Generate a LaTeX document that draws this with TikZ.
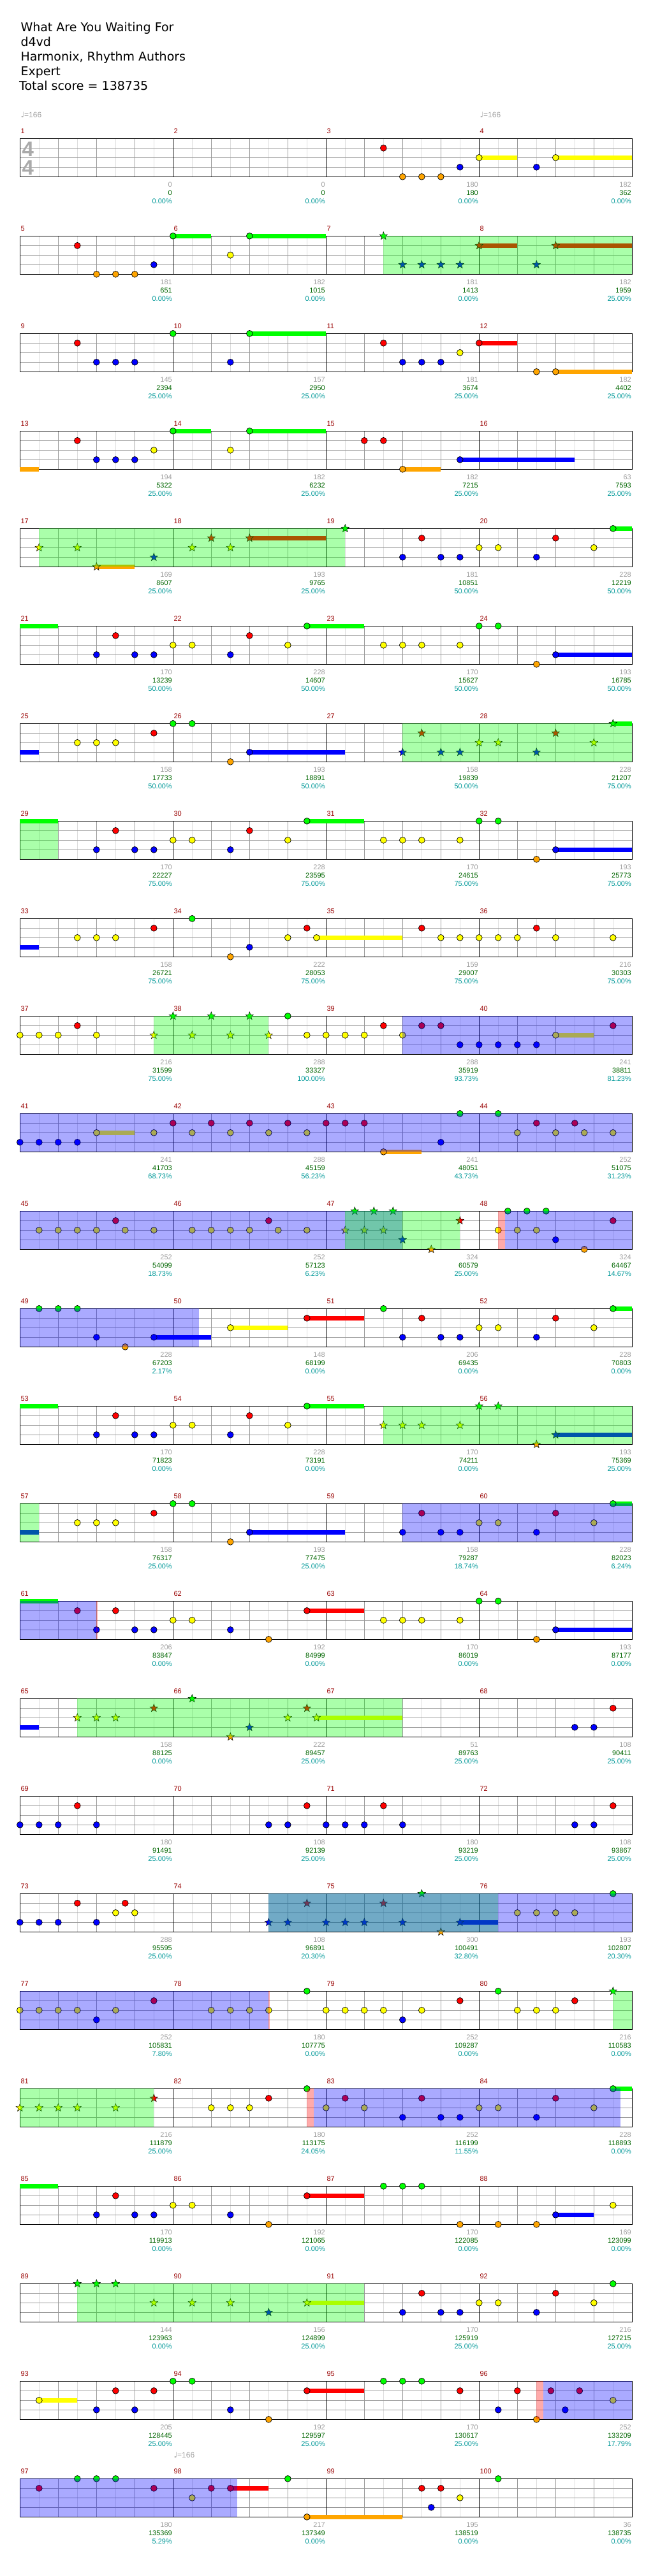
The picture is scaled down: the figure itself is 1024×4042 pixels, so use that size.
\documentclass[tikz,border=0pt]{standalone}
\usepackage{fontspec}
\setmainfont{Liberation Sans}
\newfontfamily\dejavu{DejaVu Sans}
\usetikzlibrary{shapes.geometric}
\definecolor{lane0}{HTML}{00FF00}
\definecolor{lane1}{HTML}{FF0000}
\definecolor{lane2}{HTML}{FFFF00}
\definecolor{lane3}{HTML}{0000FF}
\definecolor{lane4}{HTML}{FFA500}
\definecolor{spg}{HTML}{00FF00}
\definecolor{act}{HTML}{0000FF}
\definecolor{pnk}{HTML}{FF0000}
\definecolor{gridgray}{HTML}{999999}
\definecolor{gridlight}{HTML}{DDDDDD}
\definecolor{mred}{HTML}{990000}
\definecolor{sgray}{HTML}{A0A0A0}
\definecolor{sgreen}{HTML}{006600}
\definecolor{steal}{HTML}{009999}
\definecolor{tsgray}{HTML}{AAAAAA}
\newcommand\Nt[3]{\path[notec, fill=lane#3] ({31.3+30*(#2)},{217.3+153*(#1)+15*(#3)}) circle[radius=4.9pt];}
\newcommand\St[3]{\node[starn, fill=lane#3] at ({31.3+30*(#2)},{217.3+153*(#1)+15*(#3)}) {};}
\newcommand\Su[4]{\fill[lane#4] ({31.3+30*(#2)},{213.8+153*(#1)+15*(#4)}) rectangle ({31.3+30*(#3)},{220.8+153*(#1)+15*(#4)});}
\newcommand\Ov[4]{\fill[#4, opacity=0.3333] ({31.3+30*(#2)},{217.3+153*(#1)}) rectangle ({31.3+30*(#3)},{277.3+153*(#1)});}
\newcommand\rowN[2]{\foreach \qp/\ql in {#2}{\edef\tmpa{\noexpand\Nt{#1}{\qp}{\ql}}\tmpa}}
\newcommand\rowS[2]{\foreach \qp/\ql in {#2}{\edef\tmpa{\noexpand\St{#1}{\qp}{\ql}}\tmpa}}
\newcommand\rowB[2]{\foreach \qa/\qb/\ql in {#2}{\edef\tmpa{\noexpand\Su{#1}{\qa}{\qb}{\ql}}\tmpa}}
\newcommand\rowO[2]{\foreach \qa/\qb/\qc in {#2}{\edef\tmpa{\noexpand\Ov{#1}{\qa}{\qb}{\qc}}\tmpa}}
\begin{document}
\begin{tikzpicture}[x=1pt,y=-1pt,line width=1pt,
  notec/.style={draw=black, line width=0.7pt},
  starn/.style={star, star points=5, star point ratio=2.4, minimum size=13pt, inner sep=0pt, draw=black, line width=0.5pt},
  ttl/.style={anchor=base west, inner sep=0pt, font=\dejavu\fontsize{19}{23}\selectfont},
  mnum/.style={anchor=base west, inner sep=0pt, font=\fontsize{11}{13}\selectfont, text=mred},
  scn/.style={anchor=base east, inner sep=0pt, font=\fontsize{11}{13}\selectfont},
  tempo/.style={anchor=base west, inner sep=0pt, font=\fontsize{12}{14}\selectfont, text=sgray},
  tsig/.style={anchor=base west, inner sep=0pt, font=\bfseries\fontsize{33}{33}\selectfont, text=tsgray}]
\fill[white] (0,0) rectangle (1024,4042);
\useasboundingbox (0,0) rectangle (1024,4042);
% header
\node[ttl] (title) at (32,49.3) {What Are You Waiting For};
\node[ttl] (artist) at (32,72.3) {d4vd};
\node[ttl] (charter) at (32,95.3) {Harmonix, Rhythm Authors};
\node[ttl] (diff) at (32,118.3) {Expert};
\node[ttl] (total) at (29.7,141.3) {Total score = 138735};
\node[tempo] (tp1) at (32,184.3) {{\dejavu ♩}=166};
\node[tempo] (tp2) at (752,184.3) {{\dejavu ♩}=166};
\node[tempo] (tp3) at (272,3856.3) {{\dejavu ♩}=166};
% grids
\foreach \r in {0,...,24}{
  \pgfmathsetmacro\rT{217.3+153*\r}
  \foreach \k in {1,3,...,31}{\draw[gridlight] ({31.3+30*\k},\rT) -- ++(0,60);}
  \foreach \k in {1,2,3}{\draw[gridgray] (31.3,{\rT+15*\k}) -- ++(960,0);}
  \foreach \k in {2,4,6,10,12,14,18,20,22,26,28,30}{\draw[gridgray] ({31.3+30*\k},\rT) -- ++(0,60);}
  \foreach \k in {1,2,3}{\draw[black] ({31.3+240*\k},\rT) -- ++(0,60);}
  \draw[black] (31.3,\rT) rectangle ++(960,60);
}
\node[tsig] (ts1) at (34,245) {4};
\node[tsig] (ts2) at (34,274) {4};
% row 0
\rowB{0}{24/26/2, 28/32/2}
\rowN{0}{19/1,20/4,21/4,22/4,23/3,24/2,27/3,28/2}
% row 1
\rowB{1}{8/10/0, 12/16/0, 24/26/1, 28/32/1}
\rowN{1}{3/1,4/4,5/4,6/4,7/3,8/0,11/2,12/0}
\rowS{1}{19/0,20/3,21/3,22/3,23/3,24/1,27/3,28/1}
\rowO{1}{19/32/spg}
% row 2
\rowB{2}{12/16/0, 24/26/1, 28/32/4}
\rowN{2}{3/1,4/3,5/3,6/3,8/0,11/3,12/0,19/1,20/3,21/3,22/3,23/2,24/1,27/4,28/4}
% row 3
\rowB{3}{0/1/4, 8/10/0, 12/16/0, 20/22/4, 23/29/3}
\rowN{3}{3/1,4/3,5/3,6/3,7/2,8/0,11/2,12/0,18/1,19/1,20/4,23/3}
% row 4
\rowB{4}{4/6/4, 12/16/1, 31/32/0}
\rowS{4}{1/2,3/2,4/4,7/3,9/2,10/1,11/2,12/1,17/0}
\rowN{4}{20/3,21/1,22/3,23/3,24/2,25/2,27/3,28/1,30/2,31/0}
\rowO{4}{1/17/spg}
% row 5
\rowB{5}{0/2/0, 15/18/0, 28/32/3}
\rowN{5}{4/3,5/1,6/3,7/3,8/2,9/2,11/3,12/1,14/2,15/0,19/2,20/2,21/2,23/2,24/0,25/0,27/4,28/3}
% row 6
\rowB{6}{0/1/3, 12/17/3, 31/32/0}
\rowN{6}{3/2,4/2,5/2,7/1,8/0,9/0,11/4,12/3}
\rowS{6}{20/3,21/1,22/3,23/3,24/2,25/2,27/3,28/1,30/2,31/0}
\rowO{6}{20/32/spg}
% row 7
\rowB{7}{0/2/0, 15/18/0, 28/32/3}
\rowN{7}{4/3,5/1,6/3,7/3,8/2,9/2,11/3,12/1,14/2,15/0,19/2,20/2,21/2,23/2,24/0,25/0,27/4,28/3}
\rowO{7}{0/2/spg}
% row 8
\rowB{8}{0/1/3, 15.5/20/2}
\rowN{8}{3/2,4/2,5/2,7/1,9/0,11/4,12/3,14/2,15/1,15.5/2,21/1,22/2,23/2,24/2,25/2,26/2,27/1,28/2,31/2}
% row 9
\rowB{9}{28/30/2}
\rowN{9}{0/2,1/2,2/2,3/1,4/2,14/0,15/2,16/2,17/2,18/2,19/1,20/2,21/1,22/1,23/3,24/3,25/3,26/3,27/3,28/2,31/1}
\rowS{9}{7/2,8/0,9/2,10/0,11/2,12/0,13/2}
\rowO{9}{7/13/spg, 20/32/act}
% row 10
\rowB{10}{4/6/2, 19/21/4}
\rowN{10}{0/3,1/3,2/3,3/3,4/2,7/2,8/1,9/2,10/1,11/2,12/1,13/2,14/1,15/2,16/1,17/1,18/1,19/4,22/3,23/0,25/0,26/2,27/1,28/2,29/1,29.5/2,31/2}
\rowO{10}{0/32/act}
% row 11
\rowN{11}{1/2,2/2,3/2,4/2,5/1,5.5/2,7/2,9/2,10/2,11/2,12/2,13/1,13.5/2,15/2,25/2,25.5/0,26/2,26.5/0,27/2,27.5/0,28/3,29.5/4,31/1}
\rowS{11}{17/2,17.5/0,18/2,18.5/0,19/2,19.5/0,20/3,21.5/4,23/1}
\rowO{11}{0/20/act, 17/23/spg, 25/25.35/pnk, 25.35/32/act}
% row 12
\rowB{12}{7/10/3, 11/14/2, 15/18/1, 31/32/0}
\rowN{12}{1/0,2/0,3/0,4/3,5.5/4,7/3,11/2,15/1,19/0,20/3,21/1,22/3,23/3,24/2,25/2,27/3,28/1,30/2,31/0}
\rowO{12}{0/9.36/act}
% row 13
\rowB{13}{0/2/0, 15/18/0, 28/32/3}
\rowN{13}{4/3,5/1,6/3,7/3,8/2,9/2,11/3,12/1,14/2,15/0}
\rowS{13}{19/2,20/2,21/2,23/2,24/0,25/0,27/4,28/3}
\rowO{13}{19/32/spg}
% row 14
\rowB{14}{0/1/3, 12/17/3, 31/32/0}
\rowN{14}{3/2,4/2,5/2,7/1,8/0,9/0,11/4,12/3,20/3,21/1,22/3,23/3,24/2,25/2,27/3,28/1,30/2,31/0}
\rowO{14}{0/1/spg, 20/32/act}
% row 15
\rowB{15}{0/2/0, 15/18/1, 28/32/3}
\rowN{15}{3/1,4/3,5/1,6/3,7/3,8/2,9/2,11/3,13/4,15/1,19/2,20/2,21/2,23/2,24/0,25/0,27/4,28/3}
\rowO{15}{0/4/act, 4/4.04/pnk}
% row 16
\rowB{16}{0/1/3, 15.5/20/2}
\rowS{16}{3/2,4/2,5/2,7/1,9/0,11/4,12/3,14/2,15/1,15.5/2}
\rowN{16}{29/3,30/3,31/1}
\rowO{16}{3/20/spg}
% row 17
\rowN{17}{0/3,1/3,2/3,3/1,4/3,13/3,14/3,15/1,16/3,17/3,18/3,19/1,20/3,29/3,30/3,31/1}
% row 18
\rowB{18}{23/25/3}
\rowN{18}{0/3,1/3,2/3,3/1,4/3,5/2,5.5/1,6/2,26/2,27/2,28/2,29/2,31/0}
\rowS{18}{13/3,14/3,15/1,16/3,17/3,18/3,19/1,20/3,21/0,22/4,23/3}
\rowO{18}{13/25/spg, 13/32/act}
% row 19
\rowN{19}{0/2,1/2,2/2,3/2,4/3,5/2,7/1,10/2,11/2,12/2,13/2,15/0,16/2,17/2,18/2,19/2,20/3,21/2,23/1,25/0,26/2,27/2,28/2,29/1}
\rowS{19}{31/0}
\rowO{19}{0/13/act, 13/13.04/pnk, 31/32/spg}
% row 20
\rowB{20}{31/32/0}
\rowS{20}{0/2,1/2,2/2,3/2,5/2,7/1}
\rowN{20}{10/2,11/2,12/2,13/1,15/0,16/2,17/1,18/2,20/3,21/1,22/3,23/3,24/2,25/2,27/3,28/1,30/2,31/0}
\rowO{20}{0/7/spg, 15/15.35/pnk, 15.35/31.39/act}
% row 21
\rowB{21}{0/2/0, 15/18/1, 28/30/3}
\rowN{21}{4/3,5/1,6/3,7/3,8/2,9/2,11/3,13/4,15/1,19/0,20/0,21/0,23/4,25/4,27/4,28/3,31/2}
% row 22
\rowB{22}{15/18/2}
\rowS{22}{3/0,4/0,5/0,7/2,9/2,11/2,13/3,15/2}
\rowN{22}{20/3,21/1,22/3,23/3,24/2,25/2,27/3,28/1,30/2,31/0}
\rowO{22}{3/18/spg}
% row 23
\rowB{23}{1/3/2, 15/18/1}
\rowN{23}{1/2,4/3,5/1,6/3,7/1,8/0,9/0,11/3,13/4,15/1,19/0,20/0,21/0,23/1,25/3,26/1,27/4,27.75/1,28.5/3,29.25/1,31/2}
\rowO{23}{27/27.35/pnk, 27.35/32/act}
% row 24
\rowB{24}{11/13/1, 15/20/4}
\rowN{24}{1/1,3/0,4/0,5/0,7/1,9/2,10/1,11/1,14/0,15/4,21/1,21.5/3,22/1,23/2,25/0}
\rowO{24}{0/11.36/act}
% measure numbers and scores
\foreach \m/\qa/\qb/\qc in {1/0/0/0.00,2/0/0/0.00,3/180/180/0.00,4/182/362/0.00,
5/181/651/0.00,6/182/1015/0.00,7/181/1413/0.00,8/182/1959/25.00,
9/145/2394/25.00,10/157/2950/25.00,11/181/3674/25.00,12/182/4402/25.00,
13/194/5322/25.00,14/182/6232/25.00,15/182/7215/25.00,16/63/7593/25.00,
17/169/8607/25.00,18/193/9765/25.00,19/181/10851/50.00,20/228/12219/50.00,
21/170/13239/50.00,22/228/14607/50.00,23/170/15627/50.00,24/193/16785/50.00,
25/158/17733/50.00,26/193/18891/50.00,27/158/19839/50.00,28/228/21207/75.00,
29/170/22227/75.00,30/228/23595/75.00,31/170/24615/75.00,32/193/25773/75.00,
33/158/26721/75.00,34/222/28053/75.00,35/159/29007/75.00,36/216/30303/75.00,
37/216/31599/75.00,38/288/33327/100.00,39/288/35919/93.73,40/241/38811/81.23,
41/241/41703/68.73,42/288/45159/56.23,43/241/48051/43.73,44/252/51075/31.23,
45/252/54099/18.73,46/252/57123/6.23,47/324/60579/25.00,48/324/64467/14.67,
49/228/67203/2.17,50/148/68199/0.00,51/206/69435/0.00,52/228/70803/0.00,
53/170/71823/0.00,54/228/73191/0.00,55/170/74211/0.00,56/193/75369/25.00,
57/158/76317/25.00,58/193/77475/25.00,59/158/79287/18.74,60/228/82023/6.24,
61/206/83847/0.00,62/192/84999/0.00,63/170/86019/0.00,64/193/87177/0.00,
65/158/88125/0.00,66/222/89457/25.00,67/51/89763/25.00,68/108/90411/25.00,
69/180/91491/25.00,70/108/92139/25.00,71/180/93219/25.00,72/108/93867/25.00,
73/288/95595/25.00,74/108/96891/20.30,75/300/100491/32.80,76/193/102807/20.30,
77/252/105831/7.80,78/180/107775/0.00,79/252/109287/0.00,80/216/110583/0.00,
81/216/111879/25.00,82/180/113175/24.05,83/252/116199/11.55,84/228/118893/0.00,
85/170/119913/0.00,86/192/121065/0.00,87/170/122085/0.00,88/169/123099/0.00,
89/144/123963/0.00,90/156/124899/25.00,91/170/125919/25.00,92/216/127215/25.00,
93/205/128445/25.00,94/192/129597/25.00,95/170/130617/25.00,96/252/133209/17.79,
97/180/135369/5.29,98/217/137349/0.00,99/195/138519/0.00,100/36/138735/0.00}{
  \pgfmathtruncatemacro\rr{(\m-1)/4}
  \pgfmathtruncatemacro\cc{\m-1-4*\rr}
  \node[mnum] (mn\m) at ({32+240*\cc},{209.7+153*\rr}) {\m};
  \node[scn, text=sgray] (sa\m) at ({270.3+240*\cc},{293.3+153*\rr}) {\qa};
  \node[scn, text=sgreen] (sb\m) at ({270.3+240*\cc},{306.3+153*\rr}) {\qb};
  \node[scn, text=steal] (sc\m) at ({270.3+240*\cc},{319.3+153*\rr}) {\qc\%};
}
\end{tikzpicture}
\end{document}
